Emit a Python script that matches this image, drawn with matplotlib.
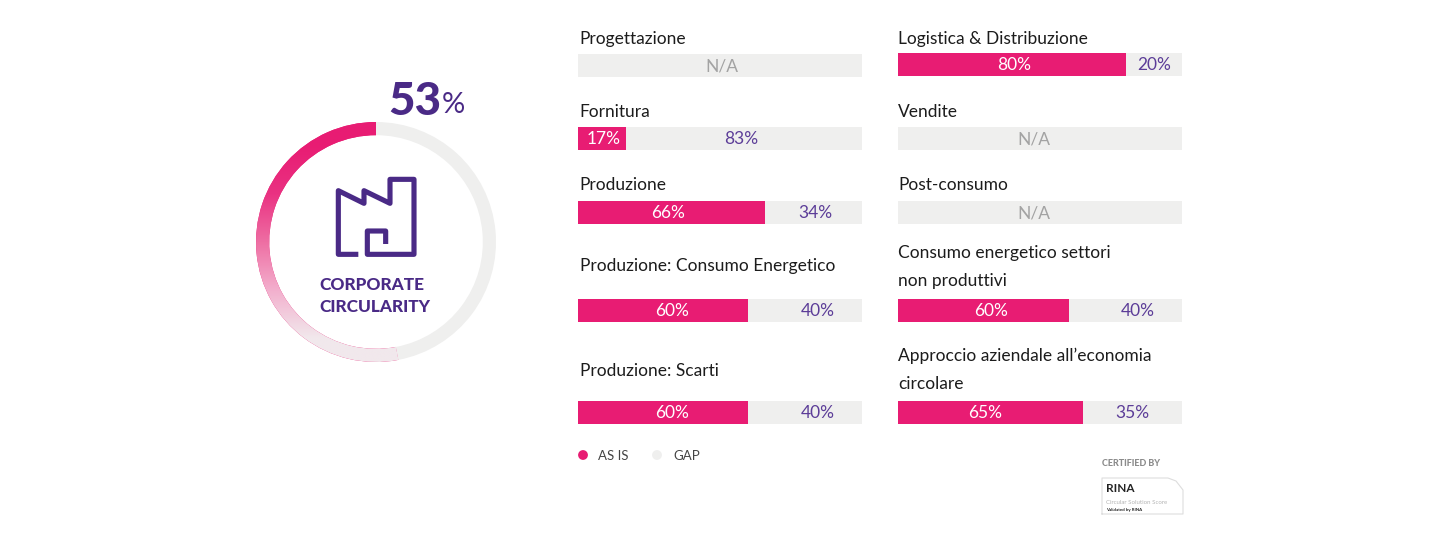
import numpy as np
import matplotlib.pyplot as plt

plt.rcParams['font.family'] = ['Lato', 'DejaVu Sans']

## DATA

labelsLeft = ['Progettazione', 'Fornitura', 'Produzione', 'Produzione: Consumo Energetico', 'Produzione: Scarti']
asIsLeft = [None, 17, 66, 60, 60] # None means N/A
labelsRight = ['Logistica & Distribuzione', 'Vendite', 'Post-consumo',
               'Consumo energetico settori\nnon produttivi', 'Approccio aziendale all\u2019economia\ncircolare']
asIsRight = [80, None, None, 60, 65]
total = 53
legendNames = ['AS IS', 'GAP']

## LAYOUT AND COLOURS (pixels of the 1440x550 picture)

pink = '#e81c73'
grey = '#efefee'
purple = '#4a2a86'
purple2 = '#5c3d98'
barTopsLeft = [54, 127, 201, 299, 401]
barTopsRight = [53, 127, 201, 299, 401]
labelYLeft = [39, 112, 185, 266, 371]
labelYRight = [39, 112, 185, 267, 370]
shiftInLeft = [2, 1, -4, 9, 9] # text in the pink part is not always centred
shiftGapLeft = [0, -3, 2, 13, 13]
shiftInRight = [2, -7, -7, 7, -6]
shiftGapRight = [0, 0, 0, 12, 0]
W = 1440
H = 550

# gives an axes placed by picture pixels
def pixelAxes(x, y, w, h):
    return plt.axes([x/W, 1-(y+h)/H, w/W, h/H])

def oneBar(x, y, value, shiftIn, shiftGap):
    pixelAxes(x, y, 284, 23)
    plt.xlim(0, 100)
    plt.ylim(-0.5, 0.5)
    plt.axis('off')
    if value is None:
        plt.barh(0, 100, height=1, color=grey)
        plt.text(50+shiftIn/2.84, -0.03, 'N/A', color='#a3a3a3', fontsize=12.5, ha='center', va='center')
    else:
        plt.barh(0, value, height=1, color=pink) # as is part
        plt.barh(0, 100-value, left=value, height=1, color=grey) # gap part
        plt.text(value/2+shiftIn/2.84, -0.03, str(value)+'%', color='white', fontsize=12.5, ha='center', va='center')
        plt.text(value+(100-value)/2+shiftGap/2.84, -0.03, str(100-value)+'%', color=purple2, fontsize=12.5, ha='center', va='center')

def ring(value):
    pixelAxes(256, 122, 240, 240)
    wedges, _ = plt.pie([value, 100-value], colors=[pink, grey], startangle=90,
                        radius=1, wedgeprops={'width': 0.11})
    plt.xlim(-1, 1)
    plt.ylim(-1, 1)
    fade = np.array([[232, 28, 115], [234, 50, 130], [238, 110, 163], [243, 175, 205], [241, 232, 236]])/255
    img = plt.imshow(fade[:, None, :], extent=(-1, 1, -1, 1), aspect='auto', interpolation='bilinear', zorder=3)
    img.set_clip_path(wedges[0]) # gradient only inside the pink slice

## FIGURE

plt.figure(figsize=(14.4, 5.5), dpi=100)

# full size axes for the free text, y runs downwards like the picture
plt.axes([0, 0, 1, 1])
plt.xlim(0, W)
plt.ylim(H, 0)
plt.axis('off')

for i in range(5):
    plt.text(579.5, labelYLeft[i], labelsLeft[i], color='#1c1c1c', fontsize=12.5, va='center')
    plt.text(898, labelYRight[i], labelsRight[i], color='#1c1c1c', fontsize=12.5, va='center', linespacing=1.95)

# the number on top of the ring
plt.text(388, 102, str(total), color=purple, fontsize=33, fontweight='black', va='center')
plt.text(442, 105, '%', color=purple, fontsize=21, fontweight='normal', va='center')

# centre of the ring
plt.text(319, 285, 'CORPORATE', color=purple, fontsize=12.4, fontweight='black', va='center')
plt.text(319, 307.5, 'CIRCULARITY', color=purple, fontsize=12.4, fontweight='black', va='center')

# factory icon
iconX = np.array([355, 295, 295, 372, 372, 450, 450, 522, 522, 382, 382, 437, 437])/3+240
iconY = np.array([553, 553, 362, 400, 362, 400, 328, 328, 553, 553, 483, 483, 522])/3+70
plt.plot(iconX, iconY, color=purple, lw=3.7, solid_joinstyle='round', solid_capstyle='butt')

# legend
plt.scatter([583, 657], [455, 455], s=50, color=[pink, grey], linewidths=0)
plt.text(598, 456, legendNames[0], color='#444444', fontsize=9.5, va='center')
plt.text(673, 456, legendNames[1], color='#444444', fontsize=9.5, va='center')

# certification badge
plt.text(1102, 463, 'CERTIFIED BY', color='#8c8c8c', fontsize=6.5, fontweight='black', va='center')
plt.plot([1102, 1102, 1168, 1176, 1183, 1183, 1102], [514, 478, 478, 481, 490, 514, 514], color='#dddddd', lw=0.8)
plt.text(1106, 489, 'RINA', color='#222222', fontsize=8.5, fontweight='bold', va='center')
plt.text(1106, 503, 'Circular Solution Score', color='#b5b5b5', fontsize=4.4, va='center')
plt.text(1106, 510, 'Validated by RINA', color='#222222', fontsize=3.2, fontweight='bold', va='center')

for i in range(5):
    oneBar(578, barTopsLeft[i], asIsLeft[i], shiftInLeft[i], shiftGapLeft[i])
    oneBar(898.5, barTopsRight[i], asIsRight[i], shiftInRight[i], shiftGapRight[i])

ring(total)

plt.savefig('out.png', dpi=100) # 1440x550
